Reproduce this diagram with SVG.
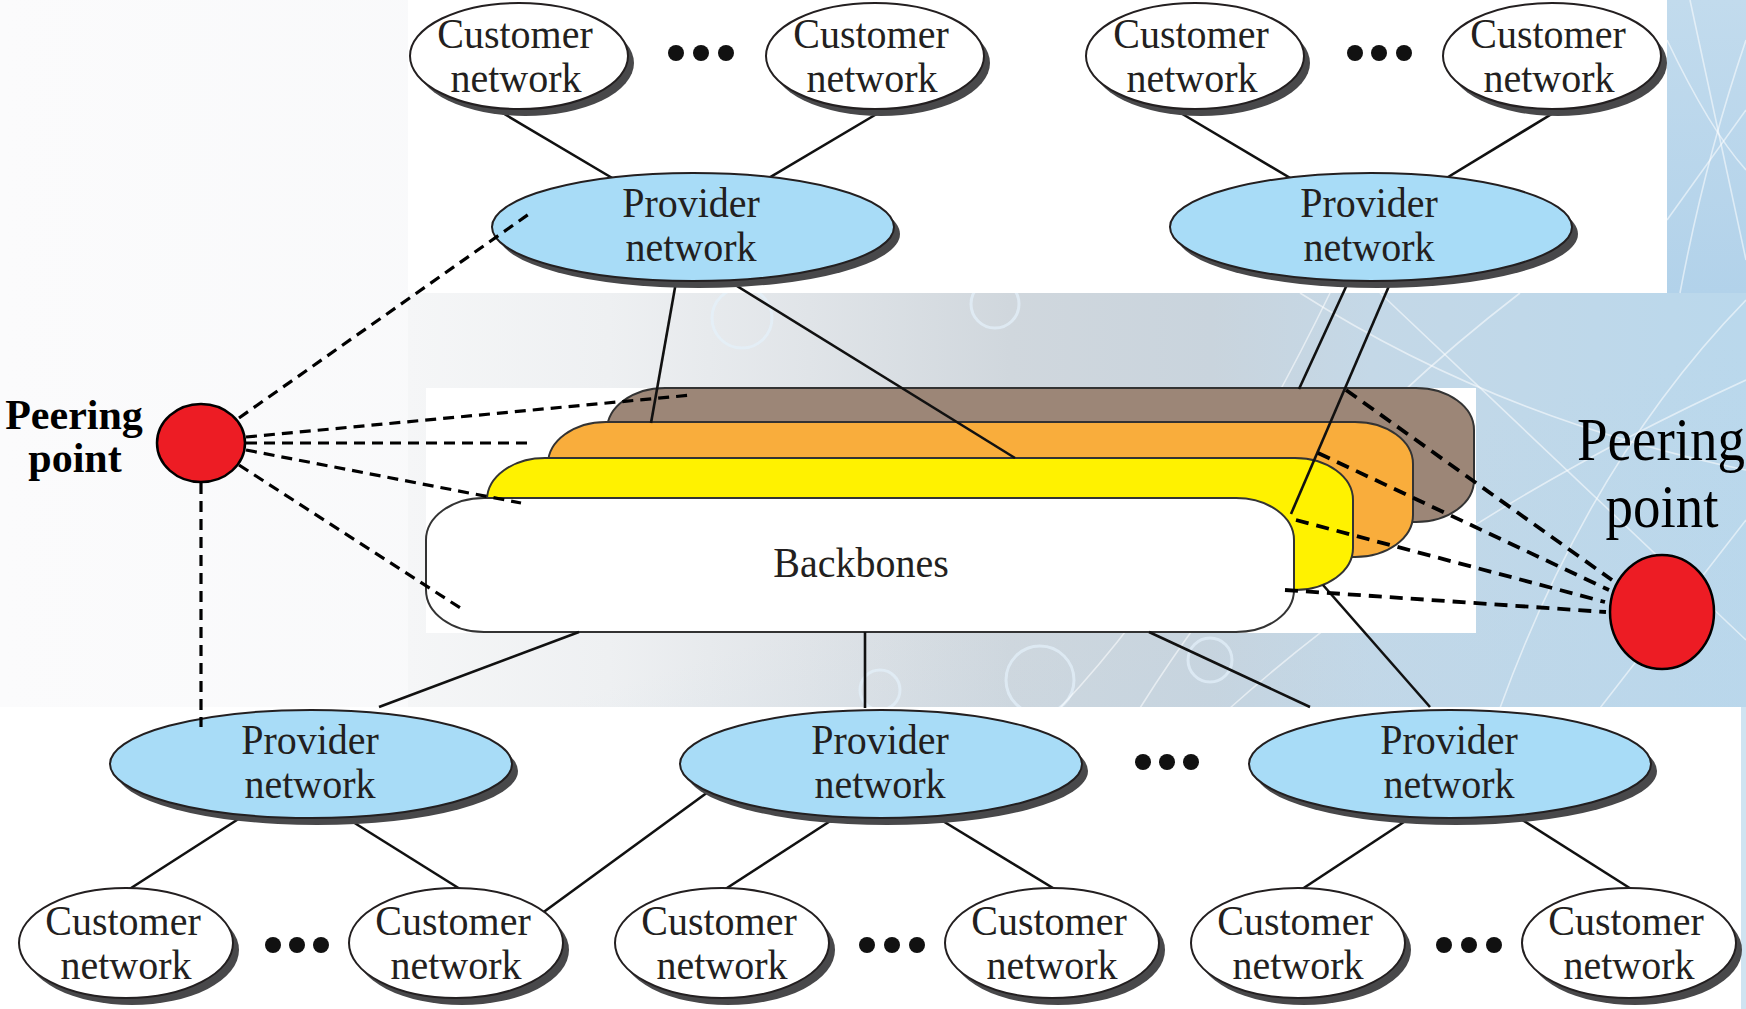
<svg xmlns="http://www.w3.org/2000/svg" width="1746" height="1009" viewBox="0 0 1746 1009">
  <defs>
    <linearGradient id="leftGrad" x1="0" y1="0" x2="1" y2="0">
      <stop offset="0" stop-color="#fbfbfc"/>
      <stop offset="1" stop-color="#f2f4f6"/>
    </linearGradient>
    <linearGradient id="bandGrad" gradientUnits="userSpaceOnUse" x1="408" y1="0" x2="1746" y2="0">
      <stop offset="0" stop-color="#f5f6f7"/>
      <stop offset="0.15" stop-color="#eef0f2"/>
      <stop offset="0.3" stop-color="#e0e4e8"/>
      <stop offset="0.45" stop-color="#d0d7dd"/>
      <stop offset="0.6" stop-color="#c9d4dd"/>
      <stop offset="0.72" stop-color="#c4d8e7"/>
      <stop offset="1" stop-color="#bad8ec"/>
    </linearGradient>
    <linearGradient id="bandShade" x1="0" y1="0" x2="1" y2="1">
      <stop offset="0" stop-color="#b9d5ea" stop-opacity="0"/>
      <stop offset="0.55" stop-color="#b9d5ea" stop-opacity="0"/>
      <stop offset="1" stop-color="#b9d5ea" stop-opacity="0.35"/>
    </linearGradient>
    <linearGradient id="stripGrad" x1="0" y1="0" x2="0" y2="1">
      <stop offset="0" stop-color="#c2dbed"/>
      <stop offset="1" stop-color="#b2d2ea"/>
    </linearGradient>
    <style>
      .txt{font-family:"Liberation Serif","Times New Roman",serif;font-size:40px;fill:#231f20;text-anchor:middle}
      .peer-txt{font-family:"Liberation Serif","Times New Roman",serif;fill:#000;text-anchor:middle}
      .shadow{fill:#48484a}
      .cust{fill:#fff;stroke:#231f20;stroke-width:2}
      .prov{fill:#a8dcf7;stroke:#231f20;stroke-width:2}
      .bb{stroke:#333;stroke-width:2}
      .link{stroke:#111;stroke-width:2.6;fill:none}
      .peer{stroke:#000;stroke-width:3.2;fill:none;stroke-dasharray:11 7}
      .peer-r{stroke:#000;stroke-width:3.8;fill:none;stroke-dasharray:13 8}
      .dot{fill:#111}
      .pp{fill:#ed1c24;stroke:#000;stroke-width:2.5}
      .streak{stroke:#ffffff;stroke-opacity:0.55;stroke-width:1.6;fill:none}
      .ring{stroke:#e4f1fb;stroke-opacity:0.7;stroke-width:3;fill:none}
    </style>
  </defs>

  <!-- backdrop: pale left side, textured band, white panels -->
  <g id="background">
    <rect x="0" y="0" width="1746" height="1009" fill="url(#leftGrad)"/>
    <rect x="408" y="293" width="1338" height="415" fill="url(#bandGrad)"/>
    <rect x="408" y="293" width="1338" height="415" fill="url(#bandShade)"/>
    <rect x="1667" y="0" width="79" height="293" fill="url(#stripGrad)"/>
    <circle class="ring" cx="742" cy="318" r="30"/>
    <circle class="ring" cx="995" cy="304" r="24"/>
    <circle class="ring" cx="1040" cy="680" r="34"/>
    <circle class="ring" cx="1210" cy="660" r="22"/>
    <circle class="ring" cx="880" cy="690" r="20"/>
    <path class="streak" d="M1140,708 Q1290,470 1520,293"/>
    <path class="streak" d="M1230,708 Q1440,520 1746,380"/>
    <path class="streak" d="M1380,293 L1746,640"/>
    <path class="streak" d="M1500,708 Q1590,460 1746,300"/>
    <path class="streak" d="M1300,293 Q1500,420 1746,470"/>
    <path class="streak" d="M1600,708 L1746,520"/>
    <path class="streak" d="M1060,708 Q1200,560 1330,293"/>
    <path class="streak" d="M1667,40 Q1710,130 1746,170"/>
    <path class="streak" d="M1680,293 Q1705,160 1746,40"/>
    <path class="streak" d="M1667,220 L1746,110"/>
    <path class="streak" d="M1690,0 L1746,260"/>
    <rect x="408" y="0" width="1259" height="293" fill="#ffffff"/>
    <rect x="426" y="388" width="1050" height="245" fill="#ffffff"/>
    <rect x="0" y="707" width="1741" height="302" fill="#ffffff"/>
    <rect x="1741" y="707" width="5" height="302" fill="#cfe3f1"/>
  </g>

  <!-- stacked backbone layers -->
  <g id="backbones">
    <rect class="bb" x="607" y="388" width="867" height="134" rx="58" ry="42" fill="#9c8677"/>
    <rect class="bb" x="548" y="422" width="865" height="135" rx="58" ry="42" fill="#f9ad3c"/>
    <rect class="bb" x="487" y="458" width="866" height="132" rx="58" ry="42" fill="#fff200"/>
    <rect class="bb" x="426" y="498" width="868" height="134" rx="58" ry="42" fill="#ffffff"/>
    <text class="txt" transform="translate(861,577) scale(1,1.08)">Backbones</text>
  </g>

  <!-- solid links between customers, providers and backbones -->
  <g id="connectors">
    <line class="link" x1="501" y1="112" x2="624" y2="185"/>
    <line class="link" x1="880" y1="112" x2="757" y2="185"/>
    <line class="link" x1="1179" y1="112" x2="1302" y2="185"/>
    <line class="link" x1="1555" y1="112" x2="1435" y2="185"/>
    <line class="link" x1="679" y1="265" x2="651" y2="423"/>
    <line class="link" x1="703" y1="265" x2="1015" y2="458"/>
    <line class="link" x1="1356" y1="265" x2="1299" y2="389"/>
    <line class="link" x1="1398" y1="265" x2="1291" y2="514"/>
    <line class="link" x1="579" y1="632" x2="379" y2="707"/>
    <line class="link" x1="865" y1="632" x2="865" y2="708"/>
    <line class="link" x1="1149" y1="632" x2="1310" y2="707"/>
    <line class="link" x1="1323" y1="585" x2="1430" y2="707"/>
    <line class="link" x1="254" y1="809" x2="114" y2="899"/>
    <line class="link" x1="345" y1="817" x2="476" y2="899"/>
    <line class="link" x1="530" y1="922" x2="723" y2="781"/>
    <line class="link" x1="838" y1="816" x2="710" y2="899"/>
    <line class="link" x1="928" y1="812" x2="1071" y2="899"/>
    <line class="link" x1="1413" y1="816" x2="1287" y2="899"/>
    <line class="link" x1="1516" y1="816" x2="1647" y2="899"/>
  </g>

  <!-- customer networks, top row -->
  <g id="customer-t1">
    <ellipse class="shadow" cx="525" cy="63" rx="109" ry="53"/>
    <ellipse class="cust" cx="519" cy="56" rx="109" ry="53"/>
    <text class="txt" transform="translate(515,48) scale(1,1.08)">Customer</text>
    <text class="txt" transform="translate(516,92) scale(1,1.08)">network</text>
  </g>
  <g id="customer-t2">
    <ellipse class="shadow" cx="881" cy="63" rx="109" ry="53"/>
    <ellipse class="cust" cx="875" cy="56" rx="109" ry="53"/>
    <text class="txt" transform="translate(871,48) scale(1,1.08)">Customer</text>
    <text class="txt" transform="translate(872,92) scale(1,1.08)">network</text>
  </g>
  <g id="customer-t3">
    <ellipse class="shadow" cx="1201" cy="63" rx="109" ry="53"/>
    <ellipse class="cust" cx="1195" cy="56" rx="109" ry="53"/>
    <text class="txt" transform="translate(1191,48) scale(1,1.08)">Customer</text>
    <text class="txt" transform="translate(1192,92) scale(1,1.08)">network</text>
  </g>
  <g id="customer-t4">
    <ellipse class="shadow" cx="1558" cy="63" rx="109" ry="53"/>
    <ellipse class="cust" cx="1552" cy="56" rx="109" ry="53"/>
    <text class="txt" transform="translate(1548,48) scale(1,1.08)">Customer</text>
    <text class="txt" transform="translate(1549,92) scale(1,1.08)">network</text>
  </g>

  <!-- provider networks, top row -->
  <g id="provider-t1">
    <ellipse class="shadow" cx="699" cy="234" rx="201" ry="54"/>
    <ellipse class="prov" cx="693" cy="227" rx="201" ry="54"/>
    <text class="txt" transform="translate(691,217) scale(1,1.08)">Provider</text>
    <text class="txt" transform="translate(691,261) scale(1,1.08)">network</text>
  </g>
  <g id="provider-t2">
    <ellipse class="shadow" cx="1377" cy="234" rx="201" ry="54"/>
    <ellipse class="prov" cx="1371" cy="227" rx="201" ry="54"/>
    <text class="txt" transform="translate(1369,217) scale(1,1.08)">Provider</text>
    <text class="txt" transform="translate(1369,261) scale(1,1.08)">network</text>
  </g>

  <!-- provider networks, bottom row -->
  <g id="provider-b1">
    <ellipse class="shadow" cx="317" cy="771" rx="201" ry="54"/>
    <ellipse class="prov" cx="311" cy="764" rx="201" ry="54"/>
    <text class="txt" transform="translate(310,754) scale(1,1.08)">Provider</text>
    <text class="txt" transform="translate(310,798) scale(1,1.08)">network</text>
  </g>
  <g id="provider-b2">
    <ellipse class="shadow" cx="887" cy="771" rx="201" ry="54"/>
    <ellipse class="prov" cx="881" cy="764" rx="201" ry="54"/>
    <text class="txt" transform="translate(880,754) scale(1,1.08)">Provider</text>
    <text class="txt" transform="translate(880,798) scale(1,1.08)">network</text>
  </g>
  <g id="provider-b3">
    <ellipse class="shadow" cx="1456" cy="771" rx="201" ry="54"/>
    <ellipse class="prov" cx="1450" cy="764" rx="201" ry="54"/>
    <text class="txt" transform="translate(1449,754) scale(1,1.08)">Provider</text>
    <text class="txt" transform="translate(1449,798) scale(1,1.08)">network</text>
  </g>

  <!-- customer networks, bottom row -->
  <g id="customer-b1">
    <ellipse class="shadow" cx="132" cy="950" rx="107" ry="55"/>
    <ellipse class="cust" cx="126" cy="943" rx="107" ry="55"/>
    <text class="txt" transform="translate(123,935) scale(1,1.08)">Customer</text>
    <text class="txt" transform="translate(126,979) scale(1,1.08)">network</text>
  </g>
  <g id="customer-b2">
    <ellipse class="shadow" cx="462" cy="950" rx="107" ry="55"/>
    <ellipse class="cust" cx="456" cy="943" rx="107" ry="55"/>
    <text class="txt" transform="translate(453,935) scale(1,1.08)">Customer</text>
    <text class="txt" transform="translate(456,979) scale(1,1.08)">network</text>
  </g>
  <g id="customer-b3">
    <ellipse class="shadow" cx="728" cy="950" rx="107" ry="55"/>
    <ellipse class="cust" cx="722" cy="943" rx="107" ry="55"/>
    <text class="txt" transform="translate(719,935) scale(1,1.08)">Customer</text>
    <text class="txt" transform="translate(722,979) scale(1,1.08)">network</text>
  </g>
  <g id="customer-b4">
    <ellipse class="shadow" cx="1058" cy="950" rx="107" ry="55"/>
    <ellipse class="cust" cx="1052" cy="943" rx="107" ry="55"/>
    <text class="txt" transform="translate(1049,935) scale(1,1.08)">Customer</text>
    <text class="txt" transform="translate(1052,979) scale(1,1.08)">network</text>
  </g>
  <g id="customer-b5">
    <ellipse class="shadow" cx="1304" cy="950" rx="107" ry="55"/>
    <ellipse class="cust" cx="1298" cy="943" rx="107" ry="55"/>
    <text class="txt" transform="translate(1295,935) scale(1,1.08)">Customer</text>
    <text class="txt" transform="translate(1298,979) scale(1,1.08)">network</text>
  </g>
  <g id="customer-b6">
    <ellipse class="shadow" cx="1635" cy="950" rx="107" ry="55"/>
    <ellipse class="cust" cx="1629" cy="943" rx="107" ry="55"/>
    <text class="txt" transform="translate(1626,935) scale(1,1.08)">Customer</text>
    <text class="txt" transform="translate(1629,979) scale(1,1.08)">network</text>
  </g>

  <!-- "more of the same" dot marks -->
  <g id="more-marks">
    <circle class="dot" cx="676" cy="53" r="8"/><circle class="dot" cx="701" cy="53" r="8"/><circle class="dot" cx="726" cy="53" r="8"/>
    <circle class="dot" cx="1355" cy="53" r="8"/><circle class="dot" cx="1379" cy="53" r="8"/><circle class="dot" cx="1404" cy="53" r="8"/>
    <circle class="dot" cx="1143" cy="762" r="8"/><circle class="dot" cx="1167" cy="762" r="8"/><circle class="dot" cx="1191" cy="762" r="8"/>
    <circle class="dot" cx="273" cy="945" r="8"/><circle class="dot" cx="297" cy="945" r="8"/><circle class="dot" cx="321" cy="945" r="8"/>
    <circle class="dot" cx="867" cy="945" r="8"/><circle class="dot" cx="892" cy="945" r="8"/><circle class="dot" cx="917" cy="945" r="8"/>
    <circle class="dot" cx="1444" cy="945" r="8"/><circle class="dot" cx="1469" cy="945" r="8"/><circle class="dot" cx="1494" cy="945" r="8"/>
  </g>

  <!-- peering points -->
  <g id="peering-left">
    <ellipse class="pp" cx="201" cy="443" rx="44" ry="39"/>
    <text class="peer-txt" x="74" y="429" font-size="42" font-weight="bold">Peering</text>
    <text class="peer-txt" x="75" y="472" font-size="42" font-weight="bold">point</text>
  </g>
  <g id="peering-right">
    <ellipse class="pp" cx="1662" cy="612" rx="52" ry="57" stroke-width="3"/>
    <text class="peer-txt" font-size="55" transform="translate(1661,460) scale(1,1.12)">Peering</text>
    <text class="peer-txt" font-size="55" transform="translate(1662,527) scale(1,1.12)">point</text>
  </g>

  <!-- dashed peering links -->
  <g id="peering-connectors">
    <line class="peer" x1="239" y1="418" x2="529" y2="214"/>
    <line class="peer" x1="246" y1="437" x2="692" y2="395"/>
    <line class="peer" x1="246" y1="443" x2="530" y2="443"/>
    <line class="peer" x1="246" y1="450" x2="521" y2="503"/>
    <line class="peer" x1="239" y1="465" x2="465" y2="611"/>
    <line class="peer" x1="201" y1="483" x2="201" y2="727"/>
    <line class="peer-r" x1="1346" y1="390" x2="1612" y2="580"/>
    <line class="peer-r" x1="1318" y1="453" x2="1609" y2="590"/>
    <line class="peer-r" x1="1296" y1="520" x2="1605" y2="602"/>
    <line class="peer-r" x1="1285" y1="590" x2="1606" y2="612"/>
  </g>
</svg>
